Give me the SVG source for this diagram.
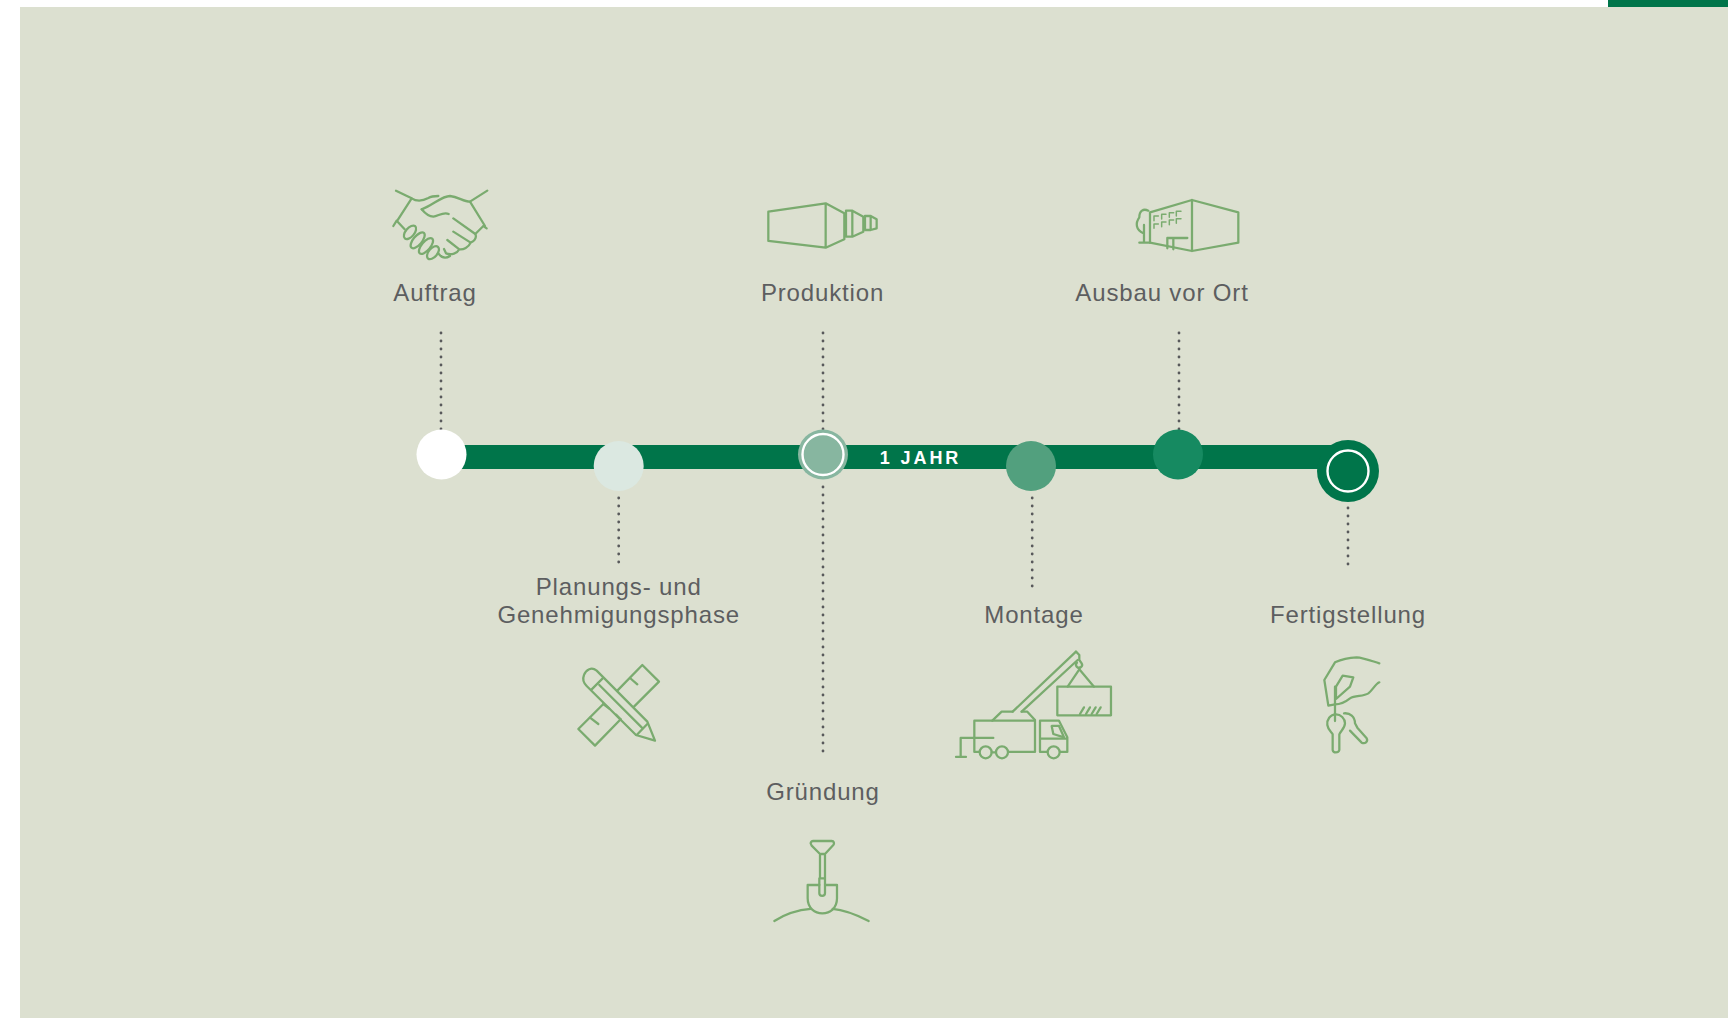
<svg xmlns="http://www.w3.org/2000/svg" width="1728" height="1018" viewBox="0 0 1728 1018">
<style>
.lbl{font-family:"Liberation Sans",Arial,sans-serif;font-size:24px;fill:#5d5e60;text-anchor:middle;letter-spacing:.85px}
.ico{fill:none;stroke:#7aab6f;stroke-width:6.800;stroke-linecap:round;stroke-linejoin:round}
.thin{stroke-width:4.500}
.dots{fill:none;stroke:#58595b;stroke-width:2.800;stroke-linecap:round;stroke-dasharray:0 8}
.ring{fill:none;stroke:#fff;stroke-width:2.400}
</style>
<rect width="1728" height="1018" fill="#fff"/>
<rect x="20" y="7" width="1708" height="1011" fill="#dce0d0"/>
<rect x="1608" y="0" width="120" height="7" fill="#00754a"/>
<g id="connectors">
<path class="dots" d="M441 333V430"/>
<path class="dots" d="M823 333V430"/>
<path class="dots" d="M1179 333V430"/>
<path class="dots" d="M618.700 498V563"/>
<path class="dots" d="M823 487V756"/>
<path class="dots" d="M1032.200 498V587"/>
<path class="dots" d="M1348 508V565"/>
</g>
<g id="timeline">
<rect x="441" y="445" width="907" height="24" fill="#00754a"/>
<text x="920.500" y="464" font-family="'Liberation Sans',Arial,sans-serif" font-size="18" font-weight="700" fill="#fff" text-anchor="middle" letter-spacing="2.900">1 JAHR</text>
</g>
<g id="auftrag">
<circle cx="441.500" cy="454.500" r="25" fill="#fff"/>
<text class="lbl" x="435" y="301">Auftrag</text>
<g class="ico" transform="translate(370 170) scale(.3333)">
<path d="M78 62L125 85C140 95 160 92 175 84C185 78 195 78 205 78"/>
<path d="M125 85L80 155M70 168L80 152L104 178"/>
<path d="M352 62L300 95L345 168M340 168L350 175M340 168L316 192"/>
<path d="M155 118C190 105 215 78 240 78C265 80 280 95 300 95"/>
<path d="M155 118C165 130 175 140 190 140C205 138 220 125 236 132"/>
<path d="M250 145L316 192C322 205 310 215 302 218L250 185M302 218C296 232 280 240 268 238L232 210M268 238C262 250 245 256 228 250L222 237M240 258C225 268 215 264 205 250"/>
<ellipse cx="120" cy="187" rx="13" ry="24" transform="rotate(40 120 187)"/>
<ellipse cx="143" cy="211" rx="13" ry="29" transform="rotate(40 143 211)"/>
<ellipse cx="168" cy="228" rx="13" ry="29" transform="rotate(40 168 228)"/>
<ellipse cx="189" cy="248" rx="13" ry="23" transform="rotate(40 189 248)"/>
</g>
</g>
<g id="planung">
<circle cx="618.700" cy="466" r="25" fill="#dbe8e1"/>
<text class="lbl" x="618.700" y="595">Planungs- und</text>
<text class="lbl" x="618.700" y="623">Genehmigungsphase</text>
<g class="ico" transform="translate(560 650) scale(.3333)">
<path d="M172 122L247 45L297 95L222 170M130 162L55 237L105 287L182 208"/>
<path d="M210 84L232 103M90 203L115 222M130 162L148 176M168 194L182 208"/>
<path d="M110 62C95 50 78 58 72 75C66 90 72 100 80 108L228 255L285 272L262 215Z"/>
<path d="M128 85L95 118M118 105L245 232M262 222L230 255"/>
</g>
</g>
<g id="produktion">
<circle cx="823" cy="454.500" r="25" fill="#87b6a0"/>
<circle class="ring" cx="823" cy="454.500" r="20.500"/>
<text class="lbl" x="822.500" y="301">Produktion</text>
<g class="ico" transform="translate(740 180) scale(.3333)">
<path d="M85 95L257 70V203L85 183ZM257 70L313 100V178L257 203"/>
<path d="M318 92H337L370 110V155L337 170H318ZM337 92V170"/>
<path d="M375 108H392L410 118V145L392 150H375ZM392 108V150"/>
</g>
</g>
<g id="gruendung">
<text class="lbl" x="823" y="800">Gründung</text>
<g class="ico" transform="translate(760 830) scale(.3333)">
<path d="M152 40C152 35 155 33 160 33H215C222 33 224 40 220 45L195 72H180L155 47Z"/>
<path d="M180 75V145M195 75V145M178 145H195V190C195 200 178 200 178 190Z"/>
<path d="M178 165H143V205C143 235 165 250 187 250C210 250 231 235 231 205V165H195"/>
<path d="M43 273C80 250 115 240 152 237M218 237C255 240 290 255 326 273"/>
</g>
</g>
<g id="montage">
<circle cx="1031" cy="466" r="25" fill="#52a07e"/>
<text class="lbl" x="1034" y="623">Montage</text>
<g class="ico" transform="translate(940 640) scale(.3333)">
<rect x="352" y="140" width="161" height="86"/>
<path d="M420 222L432 202M438 222L450 202M455 222L467 202M470 222L482 202"/>
<path d="M383 140L418 88L462 140M418 88V83"/>
<path d="M411 68A9 9 0 1 0 425 70L418 60V45L408 35"/>
<path d="M218 215L408 35M245 215L413 60"/>
<path d="M157 242L185 215H218M245 215H262L285 240"/>
<path d="M118 336H103V242H285V336H205"/>
<circle cx="137" cy="337" r="18"/><circle cx="186" cy="337" r="18"/>
<path d="M155 337H168"/>
<path d="M160 294H62V351M48 351H78"/>
<path d="M322 336H300V242H357L382 292V336H360M300 296H382"/>
<circle cx="341" cy="337" r="18"/>
<path d="M335 258H357L372 292L340 282Z"/>
</g>
</g>
<g id="ausbau">
<circle cx="1178" cy="454.500" r="25" fill="#168a61"/>
<text class="lbl" x="1162" y="301">Ausbau vor Ort</text>
<g class="ico" transform="translate(1110 180) scale(.3333)">
<path d="M120 97L246 60L385 97V188L246 213L120 188ZM246 60V213"/>
<path d="M102 135V188M88 188H120M115 92C100 85 88 92 88 112C75 130 78 150 100 160"/>
<path d="M172 174H232M172 174V205M190 174V208"/>
<path class="thin" d="M132 122V108H145M155 117V103H168M178 112V98H191M199 108V94H213M132 145V132H145M155 140V126H168M178 134V120H191M199 130V116H213"/>
</g>
</g>
<g id="fertigstellung">
<circle cx="1348" cy="471" r="31" fill="#00754a"/>
<circle class="ring" cx="1348" cy="471" r="20.500"/>
<text class="lbl" x="1348" y="623">Fertigstellung</text>
<g class="ico" transform="translate(1300 645) scale(.3333)">
<path d="M238 55C215 48 190 38 170 37C145 38 120 45 105 52L73 105L85 182L105 178C120 178 135 172 150 160C165 150 190 155 205 145C218 135 225 118 238 112"/>
<path d="M108 125L128 92L160 97L150 125L108 162ZM105 125V228"/>
<path d="M108 208C90 208 80 225 82 240C84 255 95 262 98 268V315C100 325 115 325 118 315V268C122 258 135 250 135 235C135 220 122 208 108 208Z"/>
<path d="M132 205C150 203 165 215 165 235L172 248L200 280C205 290 195 298 185 293L150 257"/>
</g>
</g>
</svg>
